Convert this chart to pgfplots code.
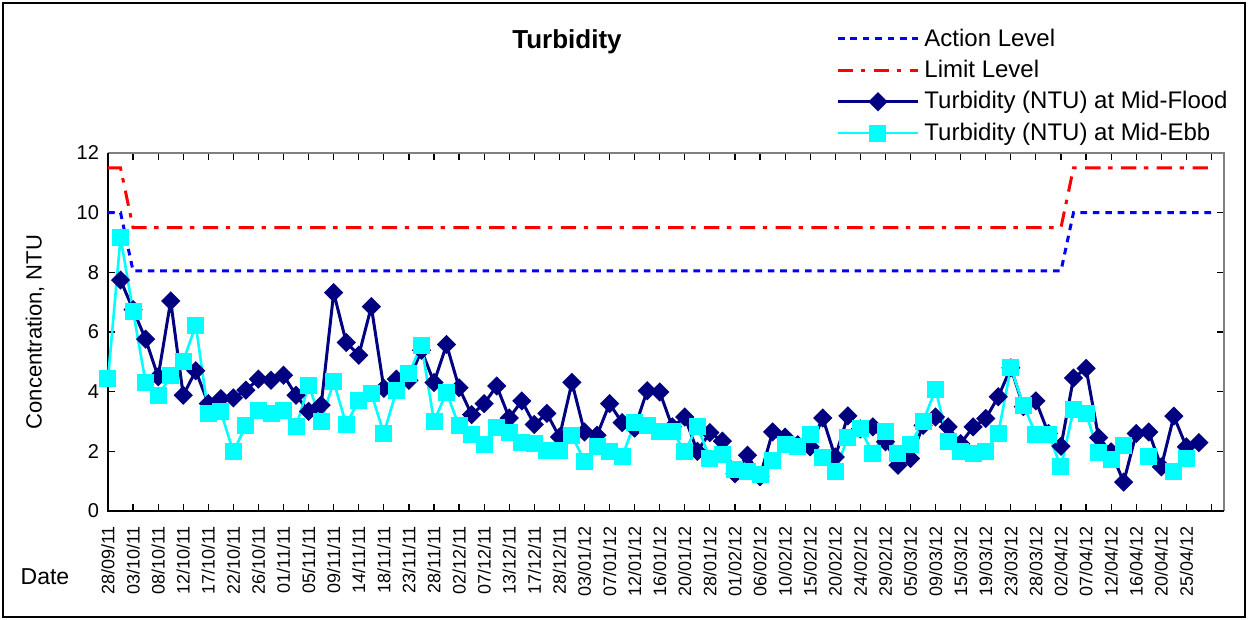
\documentclass[border=0pt]{standalone}
\usepackage{pgfplots}
\pgfplotsset{compat=1.18}
\usepackage{pgfplotstable}
\usepackage{fontspec}
\setmainfont{Liberation Sans}
\definecolor{actblue}{RGB}{0,0,255}
\definecolor{limred}{RGB}{255,0,0}
\definecolor{navyc}{RGB}{0,0,128}
\definecolor{cyanc}{RGB}{0,255,255}

\pgfplotstableread{
i action limit flood ebb
0 10 11.5 nan 4.44
1 10 11.5 7.74 9.17
2 8.05 9.5 6.75 6.70
3 8.05 9.5 5.76 4.31
4 8.05 9.5 4.50 3.86
5 8.05 9.5 7.04 4.53
6 8.05 9.5 3.88 5.02
7 8.05 9.5 4.70 6.23
8 8.05 9.5 3.60 3.27
9 8.05 9.5 3.77 3.32
10 8.05 9.5 3.79 1.98
11 8.05 9.5 4.05 2.87
12 8.05 9.5 4.42 3.38
13 8.05 9.5 4.38 3.27
14 8.05 9.5 4.55 3.36
15 8.05 9.5 3.88 2.82
16 8.05 9.5 3.34 4.22
17 8.05 9.5 3.55 3.01
18 8.05 9.5 7.32 4.33
19 8.05 9.5 5.65 2.90
20 8.05 9.5 5.22 3.71
21 8.05 9.5 6.85 3.94
22 8.05 9.5 4.11 2.60
23 8.05 9.5 4.42 4.03
24 8.05 9.5 4.38 4.61
25 8.05 9.5 5.39 5.56
26 8.05 9.5 4.31 3.01
27 8.05 9.5 5.58 3.97
28 8.05 9.5 4.13 2.85
29 8.05 9.5 3.23 2.56
30 8.05 9.5 3.60 2.24
31 8.05 9.5 4.19 2.81
32 8.05 9.5 3.12 2.63
33 8.05 9.5 3.69 2.29
34 8.05 9.5 2.90 2.26
35 8.05 9.5 3.27 2.04
36 8.05 9.5 2.48 2.04
37 8.05 9.5 4.31 2.52
38 8.05 9.5 2.65 1.67
39 8.05 9.5 2.54 2.15
40 8.05 9.5 3.60 1.98
41 8.05 9.5 2.96 1.81
42 8.05 9.5 2.78 2.96
43 8.05 9.5 4.03 2.85
44 8.05 9.5 3.99 2.68
45 8.05 9.5 2.82 2.68
46 8.05 9.5 3.15 2.00
47 8.05 9.5 2.00 2.84
48 8.05 9.5 2.63 1.76
49 8.05 9.5 2.34 1.89
50 8.05 9.5 1.25 1.39
51 8.05 9.5 1.87 1.31
52 8.05 9.5 1.15 1.22
53 8.05 9.5 2.65 1.70
54 8.05 9.5 2.48 2.23
55 8.05 9.5 2.22 2.15
56 8.05 9.5 2.15 2.56
57 8.05 9.5 3.12 1.78
58 8.05 9.5 1.81 1.31
59 8.05 9.5 3.19 2.48
60 8.05 9.5 2.75 2.76
61 8.05 9.5 2.82 1.92
62 8.05 9.5 2.32 2.67
63 8.05 9.5 1.53 1.92
64 8.05 9.5 1.76 2.24
65 8.05 9.5 2.87 2.99
66 8.05 9.5 3.15 4.08
67 8.05 9.5 2.82 2.32
68 8.05 9.5 2.26 1.98
69 8.05 9.5 2.82 1.92
70 8.05 9.5 3.10 2.00
71 8.05 9.5 3.83 2.60
72 8.05 9.5 4.80 4.81
73 8.05 9.5 3.50 3.55
74 8.05 9.5 3.69 2.57
75 8.05 9.5 2.60 2.57
76 8.05 9.5 2.17 1.48
77 10 11.5 4.46 3.40
78 10 11.5 4.78 3.27
79 10 11.5 2.46 1.95
80 10 11.5 1.98 1.72
81 10 11.5 0.97 2.20
82 10 11.5 2.60 nan
83 10 11.5 2.65 1.81
84 10 11.5 1.48 nan
85 10 11.5 3.18 1.31
86 10 11.5 2.15 1.76
87 10 11.5 2.29 nan
88 10 11.5 nan nan
}\data

\begin{document}
\begin{tikzpicture}
\useasboundingbox (-54pt,-54.5pt) rectangle (570pt,255.5pt);
\draw[black, line width=0.6pt] (-52.5pt,-53pt) rectangle (568.5pt,254pt);
\begin{axis}[
  at={(0pt,0pt)}, anchor=south west,
  scale only axis, width=558pt, height=179pt,
  xmin=0, xmax=89, ymin=0, ymax=12,
  clip=false,
  unbounded coords=jump,
  axis line style={draw=none},
  ytick={0,2,...,12},
  xtick={0,2,...,88},
  xticklabels={28/09/11,03/10/11,08/10/11,12/10/11,17/10/11,22/10/11,26/10/11,01/11/11,05/11/11,09/11/11,14/11/11,18/11/11,23/11/11,28/11/11,02/12/11,07/12/11,13/12/11,17/12/11,28/12/11,03/01/12,07/01/12,12/01/12,16/01/12,20/01/12,28/01/12,01/02/12,06/02/12,10/02/12,15/02/12,20/02/12,24/02/12,29/02/12,05/03/12,09/03/12,15/03/12,19/03/12,23/03/12,28/03/12,02/04/12,07/04/12,12/04/12,16/04/12,20/04/12,25/04/12,{}},
  tick align=inside,
  major tick length=3.5pt,
  tick style={black, line width=0.6pt},
  /pgf/number format/assume math mode=true,
  yticklabel style={font=\fontsize{10}{12}\selectfont, xshift=-1pt},
  xticklabel style={rotate=90, anchor=east, font=\fontsize{9}{11}\selectfont, xshift=-4pt},
  legend style={at={(axis description cs:0.647,1.365)}, anchor=north west,
    draw=none, fill=none, font=\fontsize{12}{14}\selectfont,
    row sep=3.5pt, nodes={inner sep=1pt},
    /tikz/every odd column/.append style={column sep=1.5pt}},
  legend cell align=left,
  legend image code/.code={\draw[mark repeat=2,mark phase=2,#1] plot coordinates {(0pt,0pt) (20pt,0pt) (40pt,0pt)};},
]
\draw[gray, line width=1.3pt] (rel axis cs:0,1) -- (rel axis cs:1,1) -- (rel axis cs:1,0);
\draw[black, line width=0.9pt] (rel axis cs:0,1) -- (rel axis cs:0,0) -- (rel axis cs:1,0);
\addplot[actblue, line width=1.5pt, dash pattern=on 3.3pt off 2.9pt, no markers] table[x=i, y=action] {\data};
\addlegendentry{Action Level}
\addplot[limred, line width=1.5pt, dash pattern=on 7.7pt off 3.8pt on 2.2pt off 4.2pt, no markers] table[x=i, y=limit] {\data};
\addlegendentry{Limit Level}
\addplot[navyc, line width=1.5pt, mark=square*, mark size=2.65pt, mark options={rotate=45, solid, fill=navyc}] table[x=i, y=flood] {\data};
\addlegendentry{Turbidity (NTU) at Mid-Flood}
\addplot[cyanc, line width=1.3pt, mark=square*, mark size=3.6pt, mark options={solid, fill=cyanc}] table[x=i, y=ebb] {\data};
\addlegendentry{Turbidity (NTU) at Mid-Ebb}
\end{axis}
\node[font=\bfseries\fontsize{13}{15}\selectfont] at (229.5pt,234.5pt) {Turbidity};
\node[rotate=90, font=\fontsize{11}{13}\selectfont] at (-36.5pt,89.5pt) {Concentration, NTU};
\node[font=\fontsize{11.5}{13}\selectfont] at (-31.5pt,-33pt) {Date};
\end{tikzpicture}
\end{document}
